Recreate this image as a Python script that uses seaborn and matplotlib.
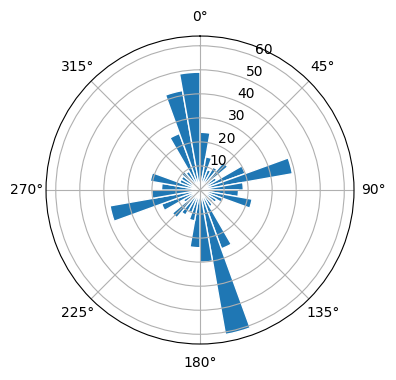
import numpy as np
import matplotlib
matplotlib.use("Agg")
import matplotlib.pyplot as plt
import seaborn as sns

# direction bins (degrees, start of each 10° sector) and counts
directions = list(range(0, 360, 10))
counts = [24, 14, 9, 11, 15, 8, 20, 39, 18,
          16, 22, 10, 8, 7, 8, 26, 61, 30,
          24, 13, 10, 12, 15, 8, 17, 38, 20,
          16, 21, 9, 9, 10, 9, 25, 42, 49]
theta_labels = ["0°", "45°", "90°", "135°", "180°", "225°", "270°", "315°"]

color = sns.color_palette("tab10")[0]

fig = plt.figure(figsize=(3.96, 3.8), dpi=100)
ax = fig.add_axes([0.1162, 0.0947, 0.7778, 0.8105], projection="polar")
ax.set_theta_zero_location("N")
ax.set_theta_direction(-1)

theta = np.deg2rad(directions)
width = np.deg2rad(10)
ax.bar(theta, counts, width=width, align="edge", color=color,
       edgecolor="white", linewidth=1)
ax.set_xticks(np.deg2rad(np.arange(0, 360, 45)))
ax.set_xticklabels(theta_labels)

fig.savefig("out.png", dpi=100)
